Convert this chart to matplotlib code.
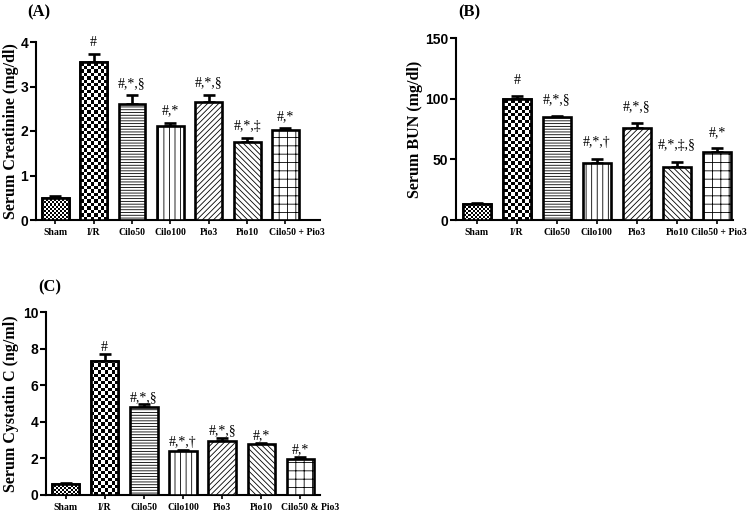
import numpy as np
import matplotlib
matplotlib.use("Agg")
import matplotlib.pyplot as plt
import matplotlib.transforms as mtransforms

groups_ab = ["Sham", "I/R", "Cilo50", "Cilo100", "Pio3", "Pio10", "Cilo50 + Pio3"]
groups_c = ["Sham", "I/R", "Cilo50", "Cilo100", "Pio3", "Pio10", "Cilo50 & Pio3"]

creat_mean = [0.50, 3.55, 2.60, 2.12, 2.65, 1.75, 2.03]
creat_err = [0.05, 0.17, 0.20, 0.06, 0.17, 0.09, 0.03]
creat_sig = ["", "#", "#,*,§", "#,*", "#,*,§", "#,*,‡", "#,*"]

bun_mean = [13, 100, 85, 47, 76, 44, 56]
bun_err = [1.2, 2.0, 1.0, 3.5, 4.0, 4.0, 3.0]
bun_sig = ["", "#", "#,*,§", "#,*,†", "#,*,§", "#,*,‡,§", "#,*"]

cys_mean = [0.60, 7.30, 4.80, 2.38, 2.95, 2.78, 1.97]
cys_err = [0.05, 0.40, 0.15, 0.10, 0.17, 0.07, 0.13]
cys_sig = ["", "#", "#,*,§", "#,*,†", "#,*,§", "#,*", "#,*"]

hatches = [None, None, "------", "|||", "//////", "\\\\\\\\\\\\", "++"]
checker_px = [2.0, 3.4, None, None, None, None, None]

TIMES = "Liberation Serif"
SANS = "Liberation Sans"
plt.rcParams["hatch.linewidth"] = 0.6

fig = plt.figure(figsize=(7.51, 5.13), dpi=100)
W, H = 751, 513


def draw_panel(rect, groups, means, errs, sigs, ylim, yticks, ylabel, label_x, xlim, letter, letter_xy,
               sig_gap, last_shift):
    ax = fig.add_axes(rect)
    x = np.arange(len(groups))
    ax.set_xlim(*xlim)
    ax.set_ylim(*ylim)
    bars = ax.bar(x, means, width=0.7, color="white", edgecolor="black",
                  linewidth=1.9, zorder=3)
    ax.errorbar(x, means, yerr=[np.zeros(len(errs)), errs], fmt="none",
                ecolor="black", elinewidth=1.9, capsize=4.5, capthick=1.9, zorder=2)
    fig.canvas.draw()
    bbox = ax.get_window_extent()
    for b, h, cp in zip(bars, hatches, checker_px):
        if h:
            b.set_hatch(h)
        if cp:
            nx = int(bbox.width / cp)
            ny = int(bbox.height / cp)
            arr = (np.add.outer(np.arange(ny), np.arange(nx)) % 2).astype(float)
            im = ax.imshow(arr, cmap="gray", vmin=0, vmax=1, extent=[xlim[0], xlim[1], ylim[0], ylim[1]],
                           aspect="auto", interpolation="nearest", zorder=3.5, origin="lower")
            im.set_clip_path(b)
            ax.bar(b.get_x() + b.get_width() / 2, b.get_height(), width=b.get_width(),
                   color="none", edgecolor="black", linewidth=1.9, zorder=4)
    for xi, m, e, s in zip(x, means, errs, sigs):
        if s:
            ax.text(xi, m + e + sig_gap, s, ha="center", va="bottom", family=TIMES, fontsize=10)
    for sp in ["top", "right"]:
        ax.spines[sp].set_visible(False)
    for sp in ["left", "bottom"]:
        ax.spines[sp].set_linewidth(1.5)
    ax.set_yticks(yticks)
    ax.set_yticklabels([str(t) for t in yticks], family=SANS, fontweight="bold", fontsize=10)
    ax.tick_params(axis="y", width=1.5, length=4, pad=1.5)
    ax.set_xticks(x)
    ax.set_xticklabels(groups, family=TIMES, fontweight="bold", fontsize=7)
    ax.tick_params(axis="x", length=3, width=1.2, pad=3)
    lbls = ax.get_xticklabels()
    lbls[-1].set_transform(lbls[-1].get_transform() +
                           mtransforms.ScaledTranslation(last_shift / 100, 0, fig.dpi_scale_trans))
    ax.set_ylabel(ylabel, family=TIMES, fontweight="bold", fontsize=11.5)
    ax.yaxis.set_label_coords((label_x - rect[0] * W) / (rect[2] * W), 0.5)
    fig.text(letter_xy[0] / W, 1 - letter_xy[1] / H, letter, family=TIMES, fontweight="bold",
             fontsize=12, ha="center", va="center")
    return ax


draw_panel([36 / W, 1 - 220 / H, 284 / W, 178 / H], groups_ab, creat_mean, creat_err, creat_sig,
           (0, 4), [0, 1, 2, 3, 4], "Serum Creatinine (mg/dl)", 19, (-0.5, 6.9), "(A)", (39, 12), 0.12, 11)
draw_panel([456 / W, 1 - 220 / H, 277 / W, 182 / H], groups_ab, bun_mean, bun_err, bun_sig,
           (0, 150), [0, 50, 100, 150], "Serum BUN (mg/dl)", 423, (-0.52, 6.4), "(B)", (469, 12), 8, 2)
draw_panel([46 / W, 1 - 495 / H, 274 / W, 183 / H], groups_c, cys_mean, cys_err, cys_sig,
           (0, 10), [0, 2, 4, 6, 8, 10], "Serum Cystatin C (ng/ml)", 19, (-0.5, 6.5), "(C)", (50, 287), 0.03, 10)

fig.savefig("out.png", dpi=100)
